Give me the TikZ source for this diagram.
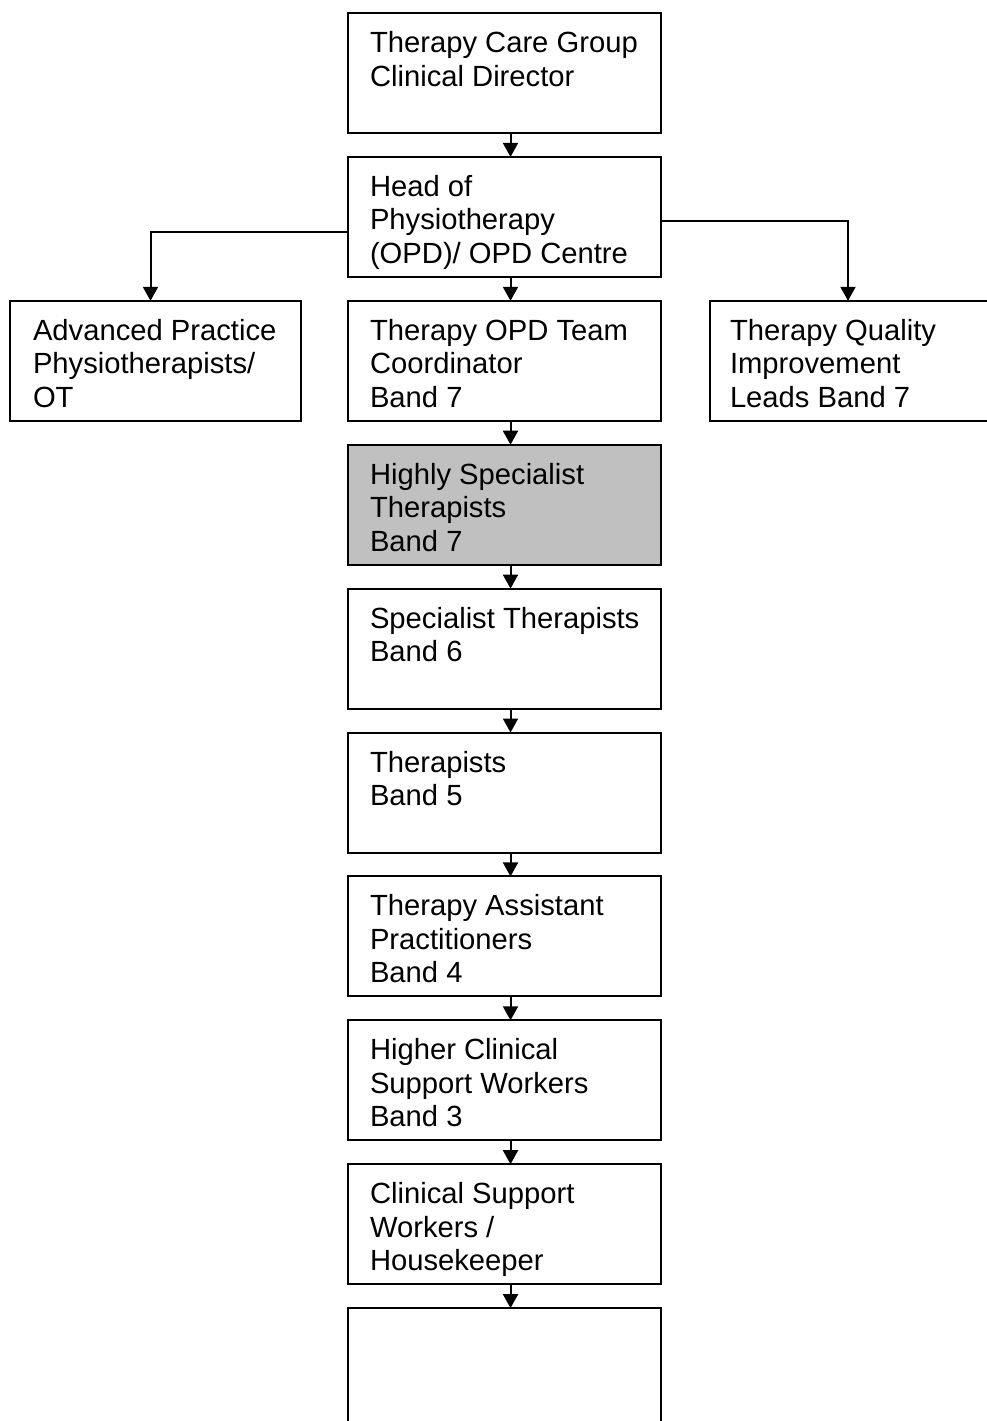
\documentclass[tikz,border=0pt]{standalone}
\usepackage{fontspec}
\setmainfont{Liberation Sans}
\usetikzlibrary{positioning,arrows.meta}
\definecolor{boxgrey}{HTML}{C0C0C0}
% top-left aligned text in a fixed box
\newcommand{\orgtext}[3]{\parbox[c][120pt][t]{#1}{\raggedright\leftskip=#2\relax\rule{0pt}{39.5pt}#3}}

\begin{document}
\begin{tikzpicture}[x=1pt, y=1pt, node distance=23.9pt,
    unit/.style={draw, line width=2pt, inner sep=0pt, outer sep=0pt,
        font=\fontsize{29.2}{33.5}\selectfont},
    link/.style={line width=2pt, -{Triangle[width=15pt,length=14pt]}}]
    \useasboundingbox (0,0) rectangle (987,-1421);

    \node[unit, anchor=north west] (cd) at (348,-13)
        {\orgtext{313pt}{22pt}{Therapy Care Group\\Clinical Director}};
    \node[unit, below=of cd] (hp)
        {\orgtext{313pt}{22pt}{Head of\\Physiotherapy\\(OPD)/ OPD Centre}};
    \node[unit, below=of hp] (tc)
        {\orgtext{313pt}{22pt}{Therapy OPD Team\\Coordinator\\Band 7}};
    \node[unit, left=47pt of tc] (ap)
        {\orgtext{291pt}{23pt}{Advanced Practice\\Physiotherapists/\\OT}};
    \node[unit, right=49pt of tc] (qi)
        {\orgtext{280pt}{20pt}{Therapy Quality\\Improvement\\Leads Band 7}};
    \node[unit, fill=boxgrey, below=of tc] (hs)
        {\orgtext{313pt}{22pt}{Highly Specialist\\Therapists\\Band 7}};
    \node[unit, below=of hs] (st)
        {\orgtext{313pt}{22pt}{Specialist Therapists\\Band 6}};
    \node[unit, below=of st] (th)
        {\orgtext{313pt}{22pt}{Therapists\\Band 5}};
    \node[unit, below=of th] (ta)
        {\orgtext{313pt}{22pt}{Therapy Assistant\\Practitioners\\Band 4}};
    \node[unit, below=of ta] (hc)
        {\orgtext{313pt}{22pt}{Higher Clinical\\Support Workers\\Band 3}};
    \node[unit, below=of hc] (cs)
        {\orgtext{313pt}{22pt}{Clinical Support\\Workers /\\Housekeeper}};
    \node[unit, below=of cs] (blank)
        {\orgtext{313pt}{22pt}{}};

    \foreach \a/\b in {cd/hp, hp/tc, tc/hs, hs/st, st/th, th/ta, ta/hc, hc/cs, cs/blank}
        \draw[link] ([xshift=6pt]\a.south) -- ([xshift=6pt]\b.north);

    \draw[link] ([yshift=-15pt]hp.west) -| ([xshift=-5pt]ap.north);
    \draw[link] ([yshift=-4pt]hp.east) -| ([xshift=-2pt]qi.north);
\end{tikzpicture}
\end{document}
